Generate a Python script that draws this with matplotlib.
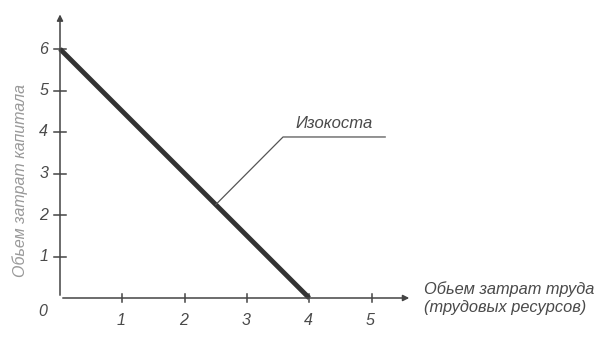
import numpy as np
import matplotlib.pyplot as plt

# isocost line
labor = [0, 4]
capital = [6, 0]
x_ticks = [1, 2, 3, 4, 5]
y_ticks = [1, 2, 3, 4, 5, 6]
leader = ([2.5, 3.58, 5.22], [2.25, 3.88, 3.88])

plt.rcParams['font.family'] = ['Liberation Sans Narrow', 'Liberation Sans', 'DejaVu Sans']

fig = plt.figure(figsize=(6.03, 3.38), dpi=100)
ax = fig.add_axes([0, 0, 1, 1])
# pixel mapping: origin at (60, 298), 62.3 px per labor unit, 41.5 px per capital unit
ax.set_xlim(-60 / 62.3, (603 - 60) / 62.3)
ax.set_ylim(-(338 - 298) / 41.5, 298 / 41.5)
ax.axis('off')

axc = '#444444'
txt = '#4a4a4a'

# axes with arrows
ax.annotate('', xy=(5.65, 0), xytext=(0, 0),
            arrowprops=dict(arrowstyle='-|>', color=axc, lw=1.1, mutation_scale=9))
ax.annotate('', xy=(0, 6.9), xytext=(0, 0),
            arrowprops=dict(arrowstyle='-|>', color=axc, lw=1.1, mutation_scale=9))

# ticks crossing axes
for t in x_ticks:
    ax.plot([t, t], [-0.1, 0.1], color=axc, lw=1.1)
    ax.text(t - 0.02, -0.55, str(t), ha='center', va='center', style='italic',
            fontsize=11.5, color=txt)
for t in y_ticks:
    ax.plot([-0.1, 0.1], [t, t], color=axc, lw=1.1)
    ax.text(-0.26, t, str(t), ha='center', va='center', style='italic',
            fontsize=11.5, color=txt)
ax.text(-0.27, -0.33, '0', ha='center', va='center', style='italic', fontsize=11.5, color=txt)

# isocost
ax.plot(labor, capital, color='#333333', lw=3.5, solid_capstyle='butt')

# leader line and label
ax.plot(leader[0], leader[1], color='#555555', lw=0.9)
ax.text(4.4, 4.2, 'Изокоста', ha='center', va='center', style='italic',
        fontsize=12, color=txt)

# axis titles
ax.text(5.85, 0.0, 'Обьем затрат труда\n(трудовых ресурсов)', ha='left', va='center',
        style='italic', fontsize=11.8, color=txt, linespacing=1.3)
ax.text(-0.64, 2.84, 'Обьем затрат капитала', ha='center', va='center', rotation=90,
        style='italic', fontsize=11.5, color='#999999')

fig.savefig('out.png', dpi=100)
